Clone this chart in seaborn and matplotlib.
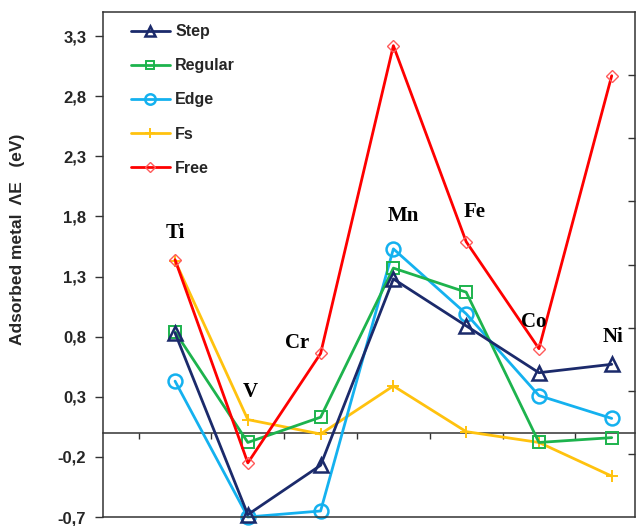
import numpy as np
import pandas as pd
import matplotlib
matplotlib.use("Agg")
import matplotlib.pyplot as plt
import seaborn as sns

# ---------------- data ----------------
categories = ["Ti", "V", "Cr", "Mn", "Fe", "Co", "Ni"]
step = [0.83, -0.68, -0.27, 1.28, 0.89, 0.50, 0.57]
regular = [0.84, -0.08, 0.13, 1.37, 1.17, -0.08, -0.04]
edge = [0.43, -0.70, -0.65, 1.53, 0.99, 0.31, 0.12]
fs = [1.43, 0.11, -0.01, 0.39, 0.01, -0.08, -0.36]
free = [1.44, -0.25, 0.66, 3.22, 1.59, 0.70, 2.97]

series_names = ["Step", "Regular", "Edge", "Fs", "Free"]
yticks = [-0.7, -0.2, 0.3, 0.8, 1.3, 1.8, 2.3, 2.8, 3.3]
ytick_labels = ["-0,7", "-0,2", "0,3", "0,8", "1,3", "1,8", "2,3", "2,8", "3,3"]

# label positions for element names (data coords)
label_x = [0.00, 1.03, 1.68, 3.13, 4.12, 4.93, 6.02]
label_y = [1.66, 0.34, 0.75, 1.80, 1.84, 0.92, 0.80]

# ---------------- style ----------------
sns.set_theme(style="white")
plt.rcParams["font.family"] = ["Liberation Sans", "DejaVu Sans"]

colors = {
    "Step": "#1b2a6b",
    "Regular": "#1db34d",
    "Edge": "#14b1ef",
    "Fs": "#ffc20e",
    "Free": "#fe0000",
}
markers = {"Step": "^", "Regular": "s", "Edge": "o", "Fs": "+", "Free": "D"}
msizes = {"Step": 9.4, "Regular": 8.6, "Edge": 10, "Fs": 9, "Free": 6.2}
medge = {"Step": "#1b2a6b", "Regular": "#1db34d", "Edge": "#14b1ef",
         "Fs": "#ffc20e", "Free": "#ff5a5a"}
mew = {"Step": 1.8, "Regular": 1.4, "Edge": 1.8, "Fs": 1.4, "Free": 1.0}
zord = {"Step": 4, "Regular": 3, "Edge": 2, "Fs": 1, "Free": 5}

values = {"Step": step, "Regular": regular, "Edge": edge, "Fs": fs, "Free": free}
xpos = np.arange(len(categories))

fig = plt.figure(figsize=(6.38, 5.26), dpi=100)
ax = fig.add_axes([103 / 638, 9 / 526, 532 / 638, 505 / 526])

for name in series_names:
    df = pd.DataFrame({"x": xpos, "y": values[name]})
    sns.lineplot(data=df, x="x", y="y", ax=ax, color=colors[name],
                 marker=markers[name], markersize=msizes[name],
                 markerfacecolor="none", markeredgecolor=medge[name],
                 markeredgewidth=mew[name], linewidth=2.0,
                 label=name, zorder=zord[name], clip_on=False)

ax.set_xlim(-0.99, 6.32)
ax.set_ylim(-0.7, 3.5)
ax.set_xlabel("")
ax.set_xticks([])
ax.set_yticks(yticks)
ax.set_yticklabels(ytick_labels, fontsize=12, fontweight="bold")
ax.tick_params(axis="y", direction="out", length=6, width=1, pad=6,
               left=True, color="#333333")
for sp in ax.spines.values():
    sp.set_visible(True)
    sp.set_color("#333333")
    sp.set_linewidth(1.1)

ax.set_ylabel("Adsorbed metal  ΛE   (eV)", fontsize=12.5, fontweight="bold")
ax.yaxis.set_label_coords(-0.146, 0.55)

# x axis crossing at y = 0
sec = ax.secondary_xaxis(0.7 / 4.2)
sec.set_xticks(np.arange(-0.5, 6.4, 1.0))
sec.set_xticklabels([])
sec.tick_params(axis="x", direction="out", length=4, width=1, color="#333333")
sec.spines["bottom"].set_color("#333333")
sec.spines["bottom"].set_linewidth(1.1)

# right side ticks (inward)
twin = ax.twinx()
twin.set_ylim(0, 8)
twin.set_yticks(np.arange(1, 8))
twin.set_yticklabels([])
twin.tick_params(axis="y", direction="in", length=5, width=1, right=True,
                 color="#333333")
twin.grid(False)
for sp in twin.spines.values():
    sp.set_visible(False)

# element labels
for lab, lx, ly in zip(categories, label_x, label_y):
    ax.text(lx, ly, lab, ha="center", va="center", fontsize=15,
            fontweight="bold", family=["Liberation Serif", "DejaVu Serif"],
            color="black", zorder=6)

leg = ax.legend(loc="upper left", bbox_to_anchor=(0.035, 0.995), frameon=False,
                prop={"weight": "bold", "size": 11.5}, handlelength=2.4,
                handletextpad=0.35, labelspacing=1.2, markerscale=0.75,
                borderaxespad=0.2)

fig.savefig("out.png", dpi=100)
